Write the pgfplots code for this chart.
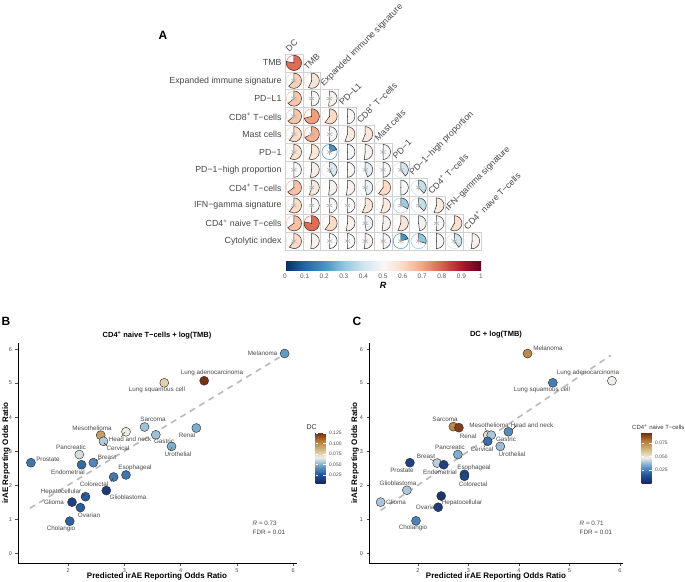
\documentclass[border=0pt]{standalone}
\usepackage{pgfplots}
\usepackage{pgfplotstable}
\pgfplotsset{compat=1.18}
\usepackage{fontspec}
\setmainfont{Liberation Sans}

\pgfplotsset{
  colormap={rdbu}{rgb255=(5,48,97) rgb255=(33,102,172) rgb255=(67,147,195) rgb255=(146,197,222)
    rgb255=(209,229,240) rgb255=(247,247,247) rgb255=(253,219,199) rgb255=(244,165,130)
    rgb255=(214,96,77) rgb255=(178,24,43) rgb255=(103,0,31)},
  colormap={vik}{rgb255=(25,38,95) rgb255=(35,85,150) rgb255=(105,160,200) rgb255=(240,238,232)
    rgb255=(210,180,125) rgb255=(180,120,55) rgb255=(105,38,15)},
}

% correlation matrix: column c, row position y (11 = TMB ... 1 = Cytolytic index), R
\pgfplotstableread{
c y R
1 11 0.78
1 10 0.62
2 10 0.57
1 9 0.64
2 9 0.50
3 9 0.52
1 8 0.64
2 8 0.71
3 8 0.60
4 8 0.50
1 7 0.60
2 7 0.68
3 7 0.50
4 7 0.55
5 7 0.56
1 6 0.58
2 6 0.56
3 6 0.20
4 6 0.50
5 6 0.52
6 6 0.50
1 5 0.50
2 5 0.53
3 5 0.42
4 5 0.50
5 5 0.45
6 5 0.50
7 5 0.40
1 4 0.65
2 4 0.55
3 4 0.52
4 4 0.52
5 4 0.47
6 4 0.60
7 4 0.50
8 4 0.38
1 3 0.60
2 3 0.50
3 3 0.50
4 3 0.50
5 3 0.56
6 3 0.55
7 3 0.32
8 3 0.38
9 3 0.55
1 2 0.65
2 2 0.78
3 2 0.60
4 2 0.52
5 2 0.48
6 2 0.52
7 2 0.56
8 2 0.48
9 2 0.50
10 2 0.58
1 1 0.60
2 1 0.52
3 1 0.50
4 1 0.50
5 1 0.52
6 1 0.50
7 1 0.20
8 1 0.30
9 1 0.50
10 1 0.40
11 1 0.52
}\corrdata

% cells that carry the grey star
\pgfplotstableread{
c y
1 10
1 9
2 9
3 9
1 8
1 7
2 7
3 7
1 6
3 6
6 6
1 5
3 5
5 5
6 5
7 5
2 4
5 4
8 4
1 3
2 3
3 3
4 3
7 3
8 3
5 2
9 2
1 1
3 1
4 1
5 1
6 1
7 1
8 1
10 1
}\stardata

% panel B: predicted, observed, DC
\pgfplotstableread{
x y m
5.85 5.87 0.045
4.42 5.07 0.125
3.71 5.01 0.078
3.36 3.71 0.055
3.56 3.48 0.055
4.28 3.68 0.050
3.03 3.57 0.068
2.58 3.47 0.095
2.63 3.29 0.058
3.84 3.14 0.050
2.20 2.90 0.063
1.34 2.66 0.035
2.45 2.66 0.040
2.24 2.60 0.032
3.03 2.30 0.035
2.81 2.24 0.036
2.68 1.84 0.015
2.31 1.66 0.028
2.07 1.50 0.018
2.22 1.34 0.028
2.03 0.94 0.030
}\dataB

% panel C: predicted, observed, CD4+ naive T-cells
\pgfplotstableread{
x y m
4.17 5.87 0.075
5.84 5.07 0.048
4.67 5.01 0.025
2.70 3.72 0.075
2.81 3.69 0.090
3.79 3.57 0.028
3.38 3.47 0.052
3.45 3.47 0.040
3.38 3.29 0.022
3.63 3.14 0.038
2.79 2.90 0.035
1.84 2.66 0.010
2.38 2.65 0.042
2.51 2.60 0.010
2.92 2.32 0.015
2.92 2.26 0.012
1.78 1.85 0.040
2.46 1.68 0.006
1.26 1.50 0.040
2.40 1.35 0.008
1.96 0.95 0.026
}\dataC

\tikzset{
  lab/.style={font=\fontsize{6.3}{7}\selectfont, color=black!72, inner sep=0.5pt},
  axlab/.style={font=\fontsize{8}{9}\selectfont\bfseries},
  collab/.style={rotate=45, anchor=south west, inner sep=1pt,
    font=\fontsize{8.8}{10}\selectfont, color=black!72},
}
\pgfplotsset{
  scat/.style={
    width=279pt, height=220pt, scale only axis,
    ymin=-0.29, ymax=6.18,
    axis x line*=bottom, axis y line*=left,
    axis line style={black, line width=0.6pt, -},
    xtick={2,3,4,5,6}, ytick={0,1,2,3,4,5,6},
    tick align=outside, major tick length=2.5pt,
    tick style={black!70, line width=0.5pt},
    ticklabel style={font=\fontsize{5.5}{6}\selectfont, color=black!70},
    /pgf/number format/assume math mode=true,
    colormap name=vik, clip=false,
    colorbar,
  },
  cbar/.style={
    at={(parent axis.south east)}, anchor=south west, xshift=10pt, yshift=80pt,
    width=10pt, height=51pt, scale only axis,
    axis line style={draw=none}, tick style={white, line width=0.5pt},
    major tick length=2.5pt, tick align=inside, scaled y ticks=false,
    yticklabel style={font=\fontsize{5}{6}\selectfont, color=black!70},
    /pgf/number format/fixed, /pgf/number format/fixed zerofill,
    /pgf/number format/precision=3, /pgf/number format/assume math mode=true,
  },
  pts/.style={scatter, only marks, mark=*, mark size=4.5pt,
    scatter src=explicit, scatter/use mapped color={draw=black!85, fill=mapped color},
    mark options={line width=0.4pt}},
}

\begin{document}
\begin{tikzpicture}[x=1pt,y=-1pt]
\useasboundingbox (0,0) rectangle (685,581);

% ---------------- panel A ----------------
\node[font=\fontsize{12}{12}\selectfont\bfseries] at (163,35) {A};
\begin{axis}[
  at={(285pt,-250pt)}, anchor=south west,
  width=196pt, height=196pt, scale only axis,
  xmin=0.5, xmax=11.5, ymin=0.5, ymax=11.5, clip=false,
  axis line style={draw=none}, tick style={draw=none},
  xtick=\empty, ytick={1,...,11},
  yticklabels={Cytolytic index, CD4\textsuperscript{+} naive T−cells, IFN−gamma signature,
    CD4\textsuperscript{+} T−cells, PD−1−high proportion, PD−1, Mast cells,
    CD8\textsuperscript{+} T−cells, PD−L1, Expanded immune signature, TMB},
  yticklabel style={font=\fontsize{8.8}{10}\selectfont, color=black!72},
  colormap name=rdbu, point meta min=0, point meta max=1,
  colorbar horizontal,
  colorbar style={at={(parent axis.south west)}, anchor=north west, yshift=-3pt,
    width=196pt, height=9pt, scale only axis,
    xtick={0,0.1,0.2,0.3,0.4,0.5,0.6,0.7,0.8,0.9,1},
    xticklabel style={font=\fontsize{6.5}{7}\selectfont, color=black!65},
    /pgf/number format/assume math mode=true,
    axis line style={draw=none}, tick style={draw=none},
    xlabel={\textbf{\textit{R}}}, xlabel style={font=\fontsize{9}{10}\selectfont, yshift=3pt}},
]
\addplot[scatter, only marks, mark=*, mark size=0.1pt, mark options={draw=none, fill=none},
  point meta=explicit,
  scatter/@pre marker code/.code={
    \pgfplotscolormapdefinemappedcolor{\pgfplotspointmetatransformed}
    \pgfmathsetmacro\endang{90-0.36*\pgfplotspointmetatransformed}
    \draw[black!18, line width=0.5pt] (-8.9pt,-8.9pt) rectangle (8.9pt,8.9pt);
    \draw[color=mapped color, line width=0.5pt] (0pt,0pt) circle[radius=7.6pt];
    \filldraw[fill=mapped color, draw=black!80, line width=0.5pt]
      (0pt,0pt) -- (0pt,7.6pt) arc[start angle=90, end angle=\endang, radius=7.6pt] -- cycle;
  },
  scatter/@post marker code/.code={},
] table[x=c, y=y, meta=R] {\corrdata};
\addplot[only marks, mark=asterisk, mark size=3pt, black!30, line width=0.6pt]
  table[x=c, y=y] {\stardata};
\node[collab] at (axis cs:0.75,11.5) {DC};
\node[collab] at (axis cs:1.75,10.5) {TMB};
\node[collab] at (axis cs:2.75,9.5) {Expanded immune signature};
\node[collab] at (axis cs:3.75,8.5) {PD−L1};
\node[collab] at (axis cs:4.75,7.5) {CD8\textsuperscript{+} T−cells};
\node[collab] at (axis cs:5.75,6.5) {Mast cells};
\node[collab] at (axis cs:6.75,5.5) {PD−1};
\node[collab] at (axis cs:7.75,4.5) {PD−1−high proportion};
\node[collab] at (axis cs:8.75,3.5) {CD4\textsuperscript{+} T−cells};
\node[collab] at (axis cs:9.75,2.5) {IFN−gamma signature};
\node[collab] at (axis cs:10.75,1.5) {CD4\textsuperscript{+} naive T−cells};
\end{axis}

% ---------------- panel B ----------------
\node[font=\fontsize{12}{12}\selectfont\bfseries] at (6,321) {B};
\begin{axis}[scat, at={(18pt,-563pt)}, anchor=south west,
  xmin=1.11, xmax=6.07,
  point meta min=0.006, point meta max=0.128,
  colorbar style={cbar, ytick={0.025,0.05,0.075,0.1,0.125}},
]
\addplot[gray!55, line width=1.6pt, dash pattern=on 6pt off 5pt] coordinates {(1.32,1.32) (5.83,5.83)};
\addplot[pts] table[meta=m] {\dataB};
\end{axis}
\node[font=\fontsize{7.5}{9}\selectfont\bfseries] at (157,335) {CD4\textsuperscript{+} naive T−cells + log(TMB)};
\node[axlab, rotate=90] at (6,453) {irAE Reporting Odds Ratio};
\node[axlab] at (157,576) {Predicted irAE Reporting Odds Ratio};
\node[font=\fontsize{7}{8}\selectfont, color=black!80, anchor=west] at (303,427) {DC};
\node[lab, anchor=west] at (252,523) {\textit{R} = 0.73};
\node[lab, anchor=west] at (252,532) {FDR = 0.01};
\node[lab, anchor=east] at (278,353) {Melanoma};
\node[lab] at (212,373) {Lung adenocarcinoma};
\node[lab] at (157,390) {Lung squamous cell};
\node[lab] at (153,419) {Sarcoma};
\node[lab] at (164,441) {Gastric};
\node[lab] at (187,435) {Renal};
\node[lab] at (130,439) {Head and neck};
\node[lab] at (92,428) {Mesothelioma};
\node[lab] at (118,448) {Cervical};
\node[lab] at (178,454) {Urothelial};
\node[lab] at (71,447) {Pancreatic};
\node[lab] at (48,459) {Prostate};
\node[lab] at (107,457) {Breast};
\node[lab] at (68,472) {Endometrial};
\node[lab] at (135,468) {Esophageal};
\node[lab] at (94,484) {Colorectal};
\node[lab] at (128,497) {Glioblastoma};
\node[lab] at (61,492) {Hepatocellular};
\node[lab] at (54,502) {Glioma};
\node[lab] at (89,515) {Ovarian};
\node[lab] at (61,529) {Cholangio};
\draw[black!85, line width=0.4pt] (121,437) -- (125,432) (104,443) -- (107,446) (96,461) -- (100,459)
  (170,451) -- (172,447) (113,478) -- (111,482) (106,491) -- (107,494) (82,494) -- (85,496);

% ---------------- panel C ----------------
\node[font=\fontsize{12}{12}\selectfont\bfseries] at (357,321) {C};
\begin{axis}[scat, at={(369pt,-563pt)}, anchor=south west,
  width=254pt, xmin=1.03, xmax=6.06,
  point meta min=0.001, point meta max=0.095,
  colorbar style={cbar, ytick={0.025,0.05,0.075}},
]
\addplot[gray!55, line width=1.6pt, dash pattern=on 6pt off 5pt] coordinates {(1.26,1.26) (5.82,5.82)};
\addplot[pts] table[meta=m] {\dataC};
\end{axis}
\node[font=\fontsize{7.5}{9}\selectfont\bfseries] at (496,335) {DC + log(TMB)};
\node[axlab, rotate=90] at (355,453) {irAE Reporting Odds Ratio};
\node[axlab] at (496,576) {Predicted irAE Reporting Odds Ratio};
\node[font=\fontsize{6}{7}\selectfont, color=black!80, anchor=west, inner sep=1pt] at (631,427) {CD4\textsuperscript{+} naive T−cells};
\node[lab, anchor=west] at (579,523) {\textit{R} = 0.71};
\node[lab, anchor=west] at (579,532) {FDR = 0.01};
\node[lab] at (548,348) {Melanoma};
\node[lab] at (588,373) {Lung adenocarcinoma};
\node[lab] at (542,390) {Lung squamous cell};
\node[lab] at (445,419) {Sarcoma};
\node[lab] at (489,425) {Mesothelioma};
\node[lab] at (532,425) {Head and neck};
\node[lab] at (468,436) {Renal};
\node[lab] at (506,439) {Gastric};
\node[lab] at (482,449) {Cervical};
\node[lab] at (512,454) {Urothelial};
\node[lab] at (450,447) {Pancreatic};
\node[lab] at (426,456) {Breast};
\node[lab] at (402,470) {Prostate};
\node[lab] at (440,472) {Endometrial};
\node[lab] at (474,468) {Esophageal};
\node[lab] at (473,484) {Colorectal};
\node[lab] at (398,483) {Glioblastoma};
\node[lab] at (396,502) {Glioma};
\node[lab] at (427,507) {Ovarian};
\node[lab] at (462,503) {Hepatocellular};
\node[lab] at (413,528) {Cholangio};
\draw[black!85, line width=0.4pt] (485,428) -- (487,432) (484,447) -- (487,443) (430,459) -- (434,461)
  (441,498) -- (442,501) (516,426) -- (512,430);
\end{tikzpicture}
\end{document}
